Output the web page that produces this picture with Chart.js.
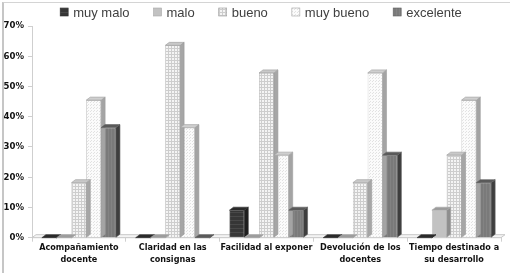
<!DOCTYPE html>
<html>
<head>
<meta charset="utf-8">
<script src="https://cdn.jsdelivr.net/npm/chart.js@4.4.0/dist/chart.umd.min.js"></script>
<style>
    html, body { margin: 0; padding: 0; background: #fff; }
    #wrap { position: relative; width: 515px; height: 273px; }
    #frame {
        position: absolute;
        left: 2px; top: 2px; width: 506px; height: 280px;
        border-left: 2px solid #c6c6c6;
        border-top: 1px solid #d4d4d4;
        pointer-events: none;
    }
    canvas { position: absolute; left: 0; top: 0; }
</style>
</head>
<body>
<div id="wrap">
    <canvas id="survey-chart" width="515" height="273"></canvas>
    <div id="frame"></div>
</div>
<script>
const categories = [
    ['Acompañamiento', 'docente'],
    ['Claridad en las', 'consignas'],
    'Facilidad al exponer',
    ['Devolución de los', 'docentes'],
    ['Tiempo destinado a', 'su desarrollo']
];
const seriesNames = ['muy malo', 'malo', 'bueno', 'muy bueno', 'excelente'];
const muyMalo = [0, 0, 9.1, 0, 0];
const malo = [0, 0, 0, 0, 9.1];
const bueno = [18.2, 63.6, 54.5, 18.2, 27.3];
const muyBueno = [45.5, 36.4, 27.3, 54.5, 45.5];
const excelente = [36.4, 0, 9.1, 27.3, 18.2];
const yTicks = [0, 10, 20, 30, 40, 50, 60, 70];

const boldFont = "'DejaVu Sans Condensed', 'Liberation Sans Narrow', 'Liberation Sans', sans-serif";

// small canvas patterns for the bar fills
function makePattern(w, h, bg, draw) {
    const c = document.createElement('canvas');
    c.width = w; c.height = h;
    const g = c.getContext('2d');
    g.fillStyle = bg;
    g.fillRect(0, 0, w, h);
    draw(g);
    return document.getElementById('survey-chart').getContext('2d').createPattern(c, 'repeat');
}

const darkFill = makePattern(4, 4, '#363636', function(g) {
    g.fillStyle = '#484848';
    g.fillRect(0, 0, 4, 1);
});
const gridFill = makePattern(3, 3, '#f4f4f4', function(g) {
    g.fillStyle = '#cdcdcd';
    g.fillRect(0, 0, 3, 1);
    g.fillRect(0, 0, 1, 3);
});
const dotFill = makePattern(3, 3, '#fbfbfb', function(g) {
    g.fillStyle = '#e2e2e2';
    g.fillRect(0, 0, 1, 1);
    g.fillRect(1, 2, 1, 1);
});
const stripeFill = makePattern(3, 3, '#7a7a7a', function(g) {
    g.fillStyle = '#838383';
    g.fillRect(0, 0, 1, 3);
});

const fills = [darkFill, '#c2c2c2', gridFill, dotFill, stripeFill];
const borders = ['#2e2e2e', '#a8a8a8', '#9a9a9a', '#a0a0a0', '#5e5e5e'];
const sideColors = ['#1e1e1e', '#8e8e8e', '#a6a6a6', '#a4a4a4', '#3e3e3e'];
const topColors = ['#2a2a2a', '#9c9c9c', '#c8c8c8', '#cfcfcf', '#5a5a5a'];
const seriesData = [muyMalo, malo, bueno, muyBueno, excelente];

const DX = 4, DY = 3;

const depthPlugin = {
    id: 'depth',
    beforeDatasetsDraw(chart) {
        const ctx = chart.ctx;
        const area = chart.chartArea;
        const y0 = chart.scales.y.getPixelForValue(0);
        ctx.save();
        // floor
        ctx.beginPath();
        ctx.moveTo(area.left, y0);
        ctx.lineTo(area.left + DX, y0 - DY);
        ctx.lineTo(area.right + DX, y0 - DY);
        ctx.lineTo(area.right, y0);
        ctx.closePath();
        ctx.fillStyle = '#f4f4f4';
        ctx.fill();
        ctx.strokeStyle = '#c8c8c8';
        ctx.lineWidth = 1;
        ctx.stroke();
        ctx.restore();
    },
    afterDatasetsDraw(chart) {
        const ctx = chart.ctx;
        ctx.save();
        ctx.lineWidth = 0.6;
        chart.data.datasets.forEach(function(ds, i) {
            const meta = chart.getDatasetMeta(i);
            meta.data.forEach(function(bar) {
                const left = bar.x - bar.width / 2;
                const right = bar.x + bar.width / 2;
                const top = bar.y;
                const bottom = bar.base;
                // side face
                ctx.beginPath();
                ctx.moveTo(right, top);
                ctx.lineTo(right + DX, top - DY);
                ctx.lineTo(right + DX, bottom - DY);
                ctx.lineTo(right, bottom);
                ctx.closePath();
                ctx.fillStyle = sideColors[i];
                ctx.fill();
                ctx.strokeStyle = borders[i];
                ctx.stroke();
                // top face
                ctx.beginPath();
                ctx.moveTo(left, top);
                ctx.lineTo(left + DX, top - DY);
                ctx.lineTo(right + DX, top - DY);
                ctx.lineTo(right, top);
                ctx.closePath();
                ctx.fillStyle = topColors[i];
                ctx.fill();
                ctx.stroke();
            });
        });
        ctx.restore();
    }
};

// legend drawn by hand so the item spacing can be wider than its height
const legendPlugin = {
    id: 'flatLegend',
    afterDraw(chart) {
        const ctx = chart.ctx;
        const box = 8, gap = 24, y = 12;
        ctx.save();
        ctx.font = '13px "Liberation Sans", Arial, sans-serif';
        ctx.textBaseline = 'middle';
        const widths = seriesNames.map(function(n) { return box + 5 + ctx.measureText(n).width; });
        const total = widths.reduce(function(a, b) { return a + b; }, 0) + gap * (widths.length - 1);
        let x = 261 - total / 2;
        seriesNames.forEach(function(n, i) {
            ctx.fillStyle = fills[i];
            ctx.fillRect(x, y - box / 2, box, box);
            ctx.strokeStyle = borders[i];
            ctx.lineWidth = 0.6;
            ctx.strokeRect(x, y - box / 2, box, box);
            ctx.fillStyle = '#404040';
            ctx.fillText(n, x + box + 5, y + 1);
            x += widths[i] + gap;
        });
        ctx.restore();
    }
};

const ctx = document.getElementById('survey-chart').getContext('2d');
const surveyChart = new Chart(ctx, {
    type: 'bar',
    data: {
        labels: categories,
        datasets: seriesNames.map(function(name, i) {
            return {
                label: name,
                data: seriesData[i],
                backgroundColor: fills[i],
                borderColor: borders[i],
                borderWidth: 0.6,
                barPercentage: 1.0,
                categoryPercentage: 0.79
            };
        })
    },
    options: {
        responsive: false,
        animation: false,
        layout: {
            padding: { left: 2, right: 14, top: 26, bottom: 7 }
        },
        plugins: {
            legend: { display: false },
            tooltip: { enabled: false }
        },
        scales: {
            y: {
                min: 0,
                max: 70,
                afterBuildTicks: function(axis) {
                    axis.ticks = yTicks.map(function(v) { return { value: v }; });
                },
                afterFit: function(axis) { axis.width = 30; },
                ticks: {
                    callback: function(v) { return v + '%'; },
                    color: '#111',
                    padding: 4,
                    font: { family: boldFont, size: 9.5, weight: 'bold' }
                },
                grid: {
                    drawOnChartArea: false,
                    color: '#cfcfcf',
                    tickLength: 4
                },
                border: { color: '#cfcfcf' }
            },
            x: {
                ticks: {
                    color: '#111',
                    padding: 0,
                    maxRotation: 0,
                    autoSkip: false,
                    font: { family: boldFont, size: 9, weight: 'bold', lineHeight: 1.35 }
                },
                grid: {
                    drawOnChartArea: false,
                    color: '#cfcfcf',
                    tickLength: 4
                },
                border: { color: '#cfcfcf' }
            }
        }
    },
    plugins: [depthPlugin, legendPlugin]
});
</script>
</body>
</html>
